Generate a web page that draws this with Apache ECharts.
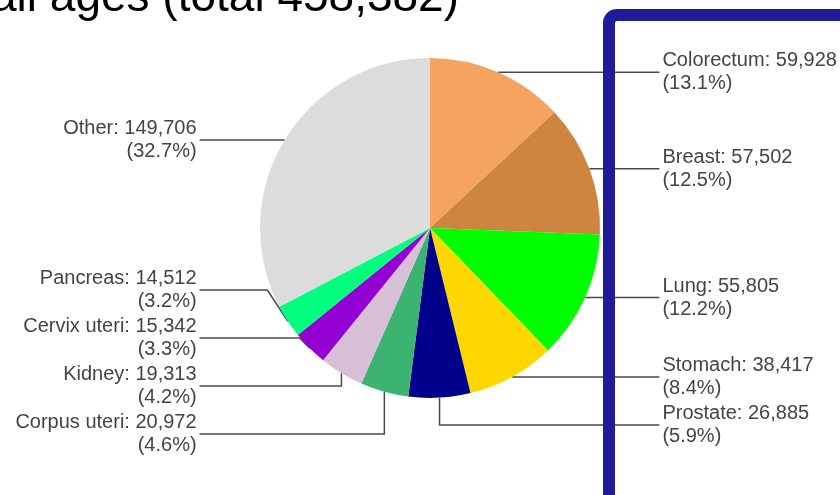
<!DOCTYPE html>
<html>
<head>
<meta charset="utf-8">
<script src="https://cdn.jsdelivr.net/npm/echarts@6/dist/echarts.min.js"></script>
<style>
  html, body { margin: 0; padding: 0; background: #fff; }
  #chart { width: 840px; height: 495px; }
</style>
</head>
<body>
<div id="chart"></div>
<script>
// cancer sites, clockwise from 12 o'clock
const sites = ["Colorectum", "Breast", "Lung", "Stomach", "Prostate",
  "Corpus uteri", "Kidney", "Cervix uteri", "Pancreas", "Other"];
const cases = [59928, 57502, 55805, 38417, 26885, 20972, 19313, 15342, 14512, 149706];
const sliceColors = ["#f4a460", "#cd853f", "#00ff00", "#ffd700", "#00008b",
  "#3cb371", "#d8bfd8", "#9400d3", "#00ff7f", "#dcdcdc"];

const total = cases.reduce((a, b) => a + b, 0);
const leftSide = ["Corpus uteri", "Kidney", "Cervix uteri", "Pancreas", "Other"];

var myChart = echarts.init(document.getElementById("chart"));

const option = {
  animation: false,
  graphic: [
    {
      type: "text",
      left: -9,
      top: -25,
      z: 10,
      style: {
        text: "all ages (total " + total.toLocaleString("en-US") + ")",
        font: "46px 'Liberation Sans', Arial, sans-serif",
        fill: "#000"
      }
    },
    {
      type: "rect",
      z: 20,
      shape: { x: 609, y: 15, width: 320, height: 600, r: 8 },
      style: { fill: "none", stroke: "#201c98", lineWidth: 12 }
    }
  ],
  series: [
    {
      type: "pie",
      left: 0,
      top: 0,
      right: -100,
      bottom: 37, // labels must stay above y=458
      center: [430, 228],
      radius: 170,
      startAngle: 90,
      clockwise: true,
      avoidLabelOverlap: true,
      itemStyle: { borderWidth: 0 },
      label: {
        show: true,
        position: "outer",
        alignTo: "labelLine",
        bleedMargin: 0,
        distanceToLabelLine: 3,
        color: "#444",
        fontFamily: "'Liberation Sans', Arial, sans-serif",
        fontSize: 20,
        lineHeight: 23,
        formatter: (p) =>
          p.name + ": " + p.value.toLocaleString("en-US") +
          "\n(" + (p.value / total * 100).toFixed(1) + "%)"
      },
      labelLine: {
        show: true,
        length: 0,
        length2: 70,
        lineStyle: { color: "#4a4a4a", width: 1.5 }
      },
      data: sites.map((name, i) => ({
        name: name,
        value: cases[i],
        itemStyle: { color: sliceColors[i] },
        labelLine: { length2: leftSide.includes(name) ? 85 : 70 }
      }))
    }
  ]
};

myChart.setOption(option);
</script>
</body>
</html>
